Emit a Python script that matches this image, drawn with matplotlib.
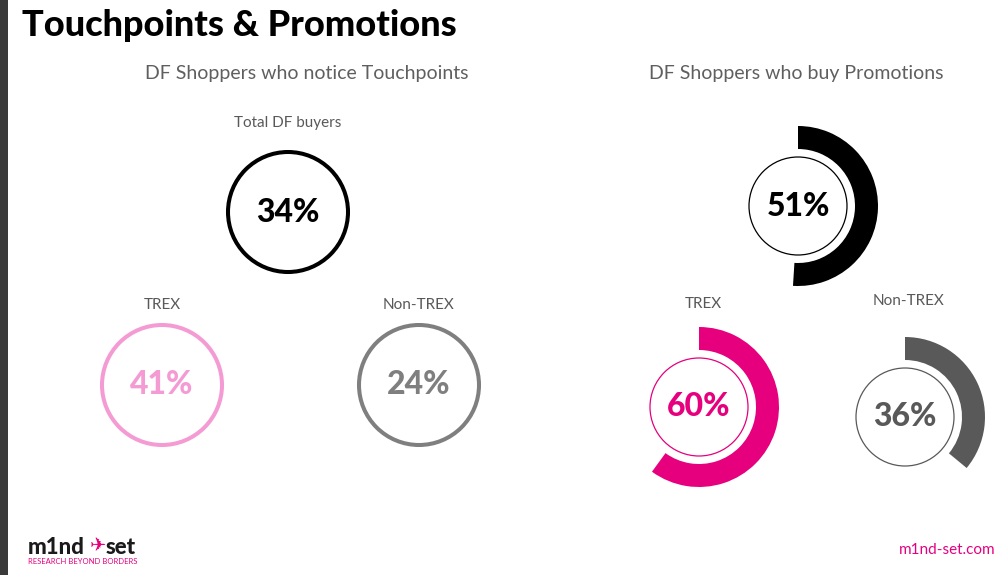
import matplotlib
matplotlib.use('Agg')
from matplotlib import pyplot as plt
from matplotlib.patches import Circle, Wedge, Rectangle

plt.rcParams['font.family'] = ['Lato', 'DejaVu Sans']

# data
notice_labels = ['Total DF buyers', 'TREX', 'Non-TREX']
notice_values = [34, 41, 24]
notice_colors = ['#000000', '#f59bd3', '#7f7f7f']

promo_labels = ['', 'TREX', 'Non-TREX']
promo_values = [51, 60, 36]
promo_colors = ['#000000', '#e6007e', '#595959']

# layout (pixel coords, y down)
notice_pos = [(288, 212), (162, 385), (419, 385)]
notice_lab_y = [123, 305, 305]
promo_pos = [(798, 206), (699, 407), (905, 417)]
promo_lab_y = [0, 304, 301]

fig = plt.figure(figsize=(10, 5.75), dpi=100)
ax = fig.add_axes([0, 0, 1, 1])
ax.set_xlim(0, 1000)
ax.set_ylim(575, 0)
ax.axis('off')

# dark strip on the left edge
ax.add_patch(Rectangle((0, 0), 8, 575, color='#3a3a3a', lw=0))

ax.text(22, 25, 'Touchpoints & Promotions', fontsize=26, fontweight='black',
        ha='left', va='center', color='black')

ax.text(307, 74, 'DF Shoppers who notice Touchpoints', fontsize=14,
        color='#5f5f5f', ha='center', va='center')
ax.text(796, 74, 'DF Shoppers who buy Promotions', fontsize=14,
        color='#5f5f5f', ha='center', va='center')

# left: plain rings
for (cx, cy), ly, lab, val, col in zip(notice_pos, notice_lab_y, notice_labels,
                                        notice_values, notice_colors):
    ax.add_patch(Circle((cx, cy), 60, fill=False, ec=col, lw=2.9))
    ax.text(cx, cy, f'{val}%', fontsize=23, fontweight='black', color=col,
            ha='center', va='center')
    ax.text(cx, ly, lab, fontsize=11, color='#595959', ha='center', va='center')

# right: arcs showing share + thin inner circle
for (cx, cy), ly, lab, val, col in zip(promo_pos, promo_lab_y, promo_labels,
                                        promo_values, promo_colors):
    ax.add_patch(Wedge((cx, cy), 80, -90, -90 + 360 * val / 100, width=23,
                       color=col, lw=0))
    ax.add_patch(Circle((cx, cy), 49, fill=False, ec=col, lw=0.9))
    ax.text(cx, cy, f'{val}%', fontsize=23, fontweight='black', color=col,
            ha='center', va='center')
    if lab:
        ax.text(cx + 4, ly, lab, fontsize=11, color='#595959',
                ha='center', va='center')

# footer
ax.text(28, 547, 'm1nd', fontsize=16, fontweight='black', color='#1a1a1a',
        ha='left', va='center')
ax.text(90, 545, '\u2708', fontsize=14, color='#e6007e', ha='left', va='center',
        family=['DejaVu Sans'])
ax.text(106, 547, 'set', fontsize=16, fontweight='black', color='#1a1a1a',
        ha='left', va='center')
ax.text(28, 561, 'RESEARCH BEYOND BORDERS', fontsize=5.5, color='#e6007e',
        ha='left', va='center')
ax.text(995, 550, 'm1nd-set.com', fontsize=11, color='#e6007e',
        ha='right', va='center')

plt.savefig('out.png', dpi=100)
